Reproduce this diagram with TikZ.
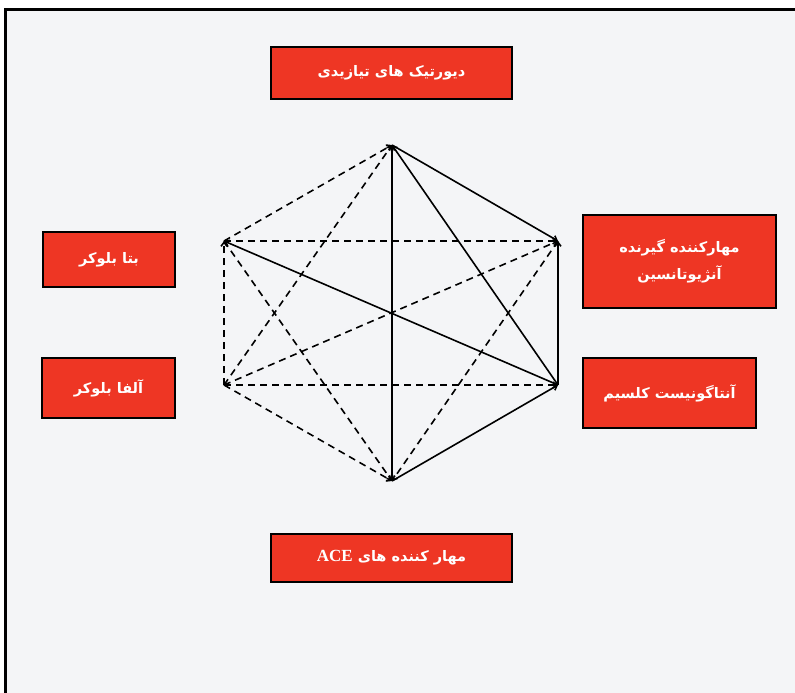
\documentclass[tikz,border=0pt]{standalone}
\usepackage{fontspec}
\setmainfont{Liberation Serif}
\newfontfamily\arabicfont[Script=Arabic]{DejaVu Sans}
\TeXXeTstate=1
\usetikzlibrary{arrows.meta}

\definecolor{boxred}{HTML}{EE3624}
\definecolor{bggray}{HTML}{F4F5F7}

\tikzset{
  drug/.style={draw=black, line width=1.5pt, fill=boxred, text=white,
    font=\arabicfont\bfseries\fontsize{14.5}{27}\selectfont, align=center, inner sep=0pt},
  link/.style={line width=1.6pt, -{Straight Barb[length=4pt,width=6pt]}},
  weak/.style={link, dash pattern=on 7pt off 5pt}
}

\begin{document}
\begin{tikzpicture}[x=1pt,y=-1pt]
\useasboundingbox (0,0) rectangle (795,693);
\fill[white] (0,0) rectangle (795,693);
\fill[bggray] (5,10) rectangle (800,700);
\draw[line width=3pt] (5,700) -- (5,10) -- (800,10);

% drug classes
\node[drug, minimum width=241pt, minimum height=52pt] (thiazide) at (391.5,73) {\beginR دیورتیک های تیازیدی\endR};
\node[drug, minimum width=132pt, minimum height=55pt] (beta) at (109,259.5) {\beginR بتا بلوکر\endR};
\node[drug, minimum width=133pt, minimum height=60pt] (alpha) at (108.5,388) {\beginR آلفا بلوکر\endR};
\node[drug, minimum width=193pt, minimum height=93pt] (arb) at (679.5,261.5) {\beginR مهارکننده گیرنده\endR\\\beginR آنژیوتانسین\endR};
\node[drug, minimum width=173pt, minimum height=70pt] (ccb) at (669.5,393) {\beginR آنتاگونیست کلسیم\endR};
\node[drug, minimum width=241pt, minimum height=48pt] (ace) at (391.5,558) {\beginR مهار کننده های \beginL{\rmfamily\bfseries\fontsize{17}{27}\selectfont ACE}\endL\endR};

% hexagon corners
\coordinate (T) at (392,145);
\coordinate (UR) at (558,241);
\coordinate (LR) at (558,385);
\coordinate (B) at (392,481);
\coordinate (LL) at (224,385);
\coordinate (UL) at (224,241);

% solid links
\draw[link, {Straight Barb[length=4pt,width=6pt]}-{Straight Barb[length=4pt,width=6pt]}] (B) -- (T);
\draw[link] (LR) -- (T);
\draw[link] (T) -- (UR);
\draw[link] (LR) -- (UR);
\draw[link] (LR) -- (UL);
\draw[link] (B) -- (LR);

% dashed links
\draw[weak] (UL) -- (UR);
\draw[weak] (LL) -- (UR);
\draw[weak] (UL) -- (T);
\draw[weak] (LL) -- (T);
\draw[weak] (LL) -- (UL);
\draw[weak] (UL) -- (B);
\draw[weak] (LL) -- (B);
\draw[weak] (UR) -- (B);
\draw[weak] (LL) -- (LR);
\end{tikzpicture}
\end{document}
